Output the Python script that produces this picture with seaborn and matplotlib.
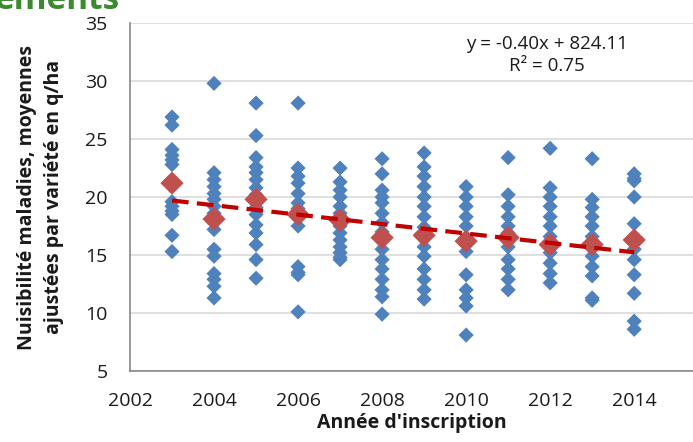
import numpy as np
import pandas as pd
import matplotlib
matplotlib.use("Agg")
import matplotlib.pyplot as plt
import seaborn as sns

years = [2003, 2004, 2005, 2006, 2007, 2008, 2009, 2010, 2011, 2012, 2013, 2014]

v2003 = [26.9, 26.2, 24.1, 23.6, 23.2, 22.8, 19.6, 19.2, 18.8, 18.5, 16.7, 15.3]
v2004 = [29.8, 22.1, 21.5, 20.9, 20.3, 19.8, 19.2, 18.6, 17.2, 15.5, 14.9, 13.4, 12.9, 12.3, 11.3]
v2005 = [28.1, 25.3, 23.4, 22.6, 22.1, 21.5, 20.8, 20.2, 19.1, 18.5, 17.6, 16.9, 15.9, 14.6, 13.0]
v2006 = [28.1, 22.5, 21.8, 21.2, 20.3, 19.5, 19.0, 18.2, 17.5, 14.0, 13.5, 13.3, 10.1]
v2007 = [22.5, 21.3, 20.6, 20.0, 19.2, 18.6, 18.0, 17.5, 16.9, 16.3, 15.7, 15.2, 14.8, 14.6]
v2008 = [23.3, 22.0, 20.6, 20.0, 19.5, 18.6, 17.8, 17.0, 16.5, 15.5, 14.6, 13.8, 12.9, 12.0, 11.4, 9.9]
v2009 = [23.8, 22.6, 21.8, 20.9, 20.0, 19.2, 18.3, 17.4, 16.7, 15.7, 14.9, 13.8, 12.9, 12.0, 11.2]
v2010 = [20.9, 20.0, 19.2, 18.3, 17.5, 16.5, 15.9, 15.3, 13.3, 12.0, 11.3, 10.6, 8.1]
v2011 = [23.4, 20.2, 19.2, 18.3, 17.5, 16.9, 16.2, 15.7, 14.6, 13.8, 12.9, 12.0]
v2012 = [24.2, 20.8, 20.0, 19.2, 18.3, 17.5, 16.6, 15.6, 15.2, 14.3, 13.4, 12.6]
v2013 = [23.3, 19.8, 19.1, 18.3, 17.5, 16.6, 15.6, 14.9, 14.0, 13.2, 11.3, 11.1]
v2014 = [22.0, 21.6, 21.4, 20.0, 17.7, 15.5, 14.6, 13.3, 11.7, 9.3, 8.6]

means = [21.2, 18.1, 19.8, 18.5, 18.0, 16.5, 16.7, 16.2, 16.5, 15.9, 15.9, 16.3]

eq_text = "y = -0.40x + 824.11\nR² = 0.75"
x_label = "Année d'inscription"
y_label = "Nuisibilité maladies, moyennes\najustées par variété en q/ha"
title_fragment = "ements"
x_ticks = [2002, 2004, 2006, 2008, 2010, 2012, 2014]
y_ticks = [5, 10, 15, 20, 25, 30, 35]

all_vals = [v2003, v2004, v2005, v2006, v2007, v2008, v2009, v2010, v2011, v2012, v2013, v2014]
rows = [(yr, v) for yr, vals in zip(years, all_vals) for v in vals]
df = pd.DataFrame(rows, columns=["year", "value"])
dm = pd.DataFrame({"year": years, "mean": means})

sns.set_theme(style="white")
plt.rcParams["font.family"] = ["Open Sans", "DejaVu Sans"]

fig = plt.figure(figsize=(6.93, 4.42), dpi=100)
ax = fig.add_axes([0.1876, 0.1606, 0.8124, 0.7872])

sns.scatterplot(data=df, x="year", y="value", marker="D", s=60, color="#4F81BD",
                edgecolor="none", ax=ax, zorder=3)
sns.scatterplot(data=dm, x="year", y="mean", marker="D", s=140, color="#C0504D",
                edgecolor="none", ax=ax, zorder=4)
sns.regplot(data=dm, x="year", y="mean", scatter=False, ci=None, truncate=True, ax=ax,
            line_kws=dict(color="#C00000", lw=3, ls=(0, (4, 2)), zorder=5))

ax.set_xlim(2002, 2015.4)
ax.set_ylim(5, 35)
ax.set_xticks(x_ticks)
ax.set_yticks(y_ticks)
ax.set_xticklabels([str(t) for t in x_ticks])
ax.set_yticklabels([str(t) for t in y_ticks])
ax.yaxis.grid(True, color="#D9D9D9", lw=1.2)
ax.set_axisbelow(True)
for side in ["top", "right"]:
    ax.spines[side].set_visible(False)
for side in ["left", "bottom"]:
    ax.spines[side].set_color("#868686")
    ax.spines[side].set_linewidth(1.2)
ax.tick_params(axis="both", which="major", direction="out", length=6, width=1.2,
               color="#868686", labelsize=14, labelcolor="#1a1a1a")
ax.tick_params(axis="x", pad=9)
ax.tick_params(axis="y", pad=10)
ax.set_xlabel(x_label, fontsize=14, fontweight="bold", color="#1a1a1a")
ax.set_ylabel(y_label, fontsize=14, fontweight="bold", color="#1a1a1a",
              linespacing=1.5)
ax.xaxis.set_label_coords(0.5, -0.122)
ax.yaxis.set_label_coords(-0.117, 0.5)

ax.text(0.74, 0.965, eq_text, transform=ax.transAxes, ha="center", va="top",
        fontsize=13.5, color="#1a1a1a", linespacing=1.3)

fig.text(0.172, 0.98, title_fragment, ha="right", va="baseline", fontsize=24,
         fontweight="bold", color="#3B8A2E")

fig.savefig("out.png", dpi=100)
